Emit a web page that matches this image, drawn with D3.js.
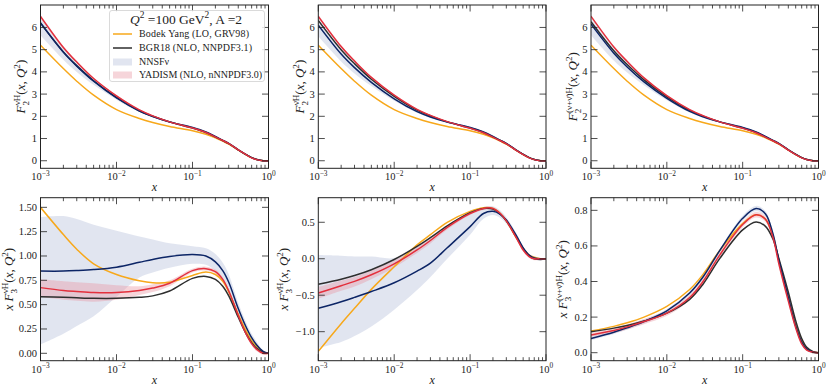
<!DOCTYPE html>
<html><head><meta charset="utf-8">
<script src="https://cdn.jsdelivr.net/npm/d3@7"></script>
<style>body{margin:0;background:#fff}svg{display:block}</style>
</head><body><svg id="c" width="831" height="391"></svg>
<script>
// ---------- DATA ----------
const X = [0.001,0.002,0.003,0.005,0.01,0.02,0.03,0.05,0.1,0.15,0.2,0.25,0.3,0.4,0.5,0.6,0.7,0.85,1.0];

// F2 neutrino
const f2nu_by   = [5.2,4.15,3.58,2.95,2.3,1.9,1.72,1.54,1.35,1.19,1.03,0.88,0.75,0.48,0.28,0.14,0.06,0.005,0];
const f2nu_bgr  = [6.2,4.9,4.28,3.6,2.85,2.25,2.0,1.74,1.47,1.27,1.07,0.91,0.77,0.49,0.29,0.14,0.06,0.005,0];
const f2nu_nnsf = [6.2,4.88,4.26,3.58,2.83,2.24,1.99,1.75,1.5,1.3,1.09,0.92,0.78,0.49,0.29,0.14,0.06,0.005,0];
const f2nu_nnsf_lo = [5.65,4.55,4.0,3.42,2.75,2.19,1.96,1.72,1.46,1.26,1.05,0.89,0.75,0.47,0.27,0.13,0.05,0.0,-0.01];
const f2nu_nnsf_hi = [6.42,5.05,4.4,3.67,2.88,2.28,2.02,1.78,1.54,1.34,1.13,0.95,0.81,0.51,0.31,0.15,0.07,0.01,0.01];
const f2nu_yad  = [6.5,5.1,4.44,3.7,2.92,2.29,2.02,1.75,1.47,1.27,1.07,0.91,0.77,0.49,0.29,0.13,0.05,0.0,0];
const f2nu_yad_lo = [6.43,5.04,4.39,3.66,2.88,2.26,1.99,1.73,1.45,1.25,1.05,0.89,0.75,0.47,0.27,0.12,0.04,-0.01,-0.01];
const f2nu_yad_hi = [6.57,5.16,4.49,3.74,2.96,2.32,2.05,1.77,1.49,1.29,1.09,0.93,0.79,0.51,0.31,0.14,0.06,0.01,0.01];

// F2 antineutrino
const f2nb_by   = [5.2,4.15,3.58,2.95,2.3,1.9,1.72,1.54,1.35,1.19,1.03,0.88,0.75,0.48,0.28,0.14,0.06,0.005,0];
const f2nb_bgr  = [6.32,5.0,4.37,3.67,2.9,2.28,2.02,1.75,1.47,1.27,1.07,0.91,0.77,0.49,0.29,0.14,0.06,0.005,0];
const f2nb_nnsf = [6.1,4.8,4.19,3.53,2.79,2.21,1.97,1.74,1.5,1.3,1.09,0.92,0.78,0.49,0.29,0.14,0.06,0.005,0];
const f2nb_nnsf_lo = [5.6,4.47,3.93,3.36,2.7,2.16,1.93,1.71,1.46,1.26,1.05,0.89,0.75,0.47,0.27,0.13,0.05,0.0,-0.01];
const f2nb_nnsf_hi = [6.35,5.0,4.36,3.65,2.87,2.27,2.02,1.78,1.54,1.34,1.13,0.95,0.81,0.51,0.31,0.15,0.07,0.01,0.01];
const f2nb_yad  = [6.5,5.14,4.49,3.75,2.95,2.31,2.04,1.76,1.46,1.26,1.06,0.9,0.76,0.48,0.28,0.13,0.05,0.0,0];
const f2nb_yad_lo = [6.43,5.08,4.44,3.71,2.91,2.28,2.01,1.74,1.44,1.24,1.04,0.88,0.74,0.46,0.26,0.12,0.04,-0.01,-0.01];
const f2nb_yad_hi = [6.57,5.2,4.54,3.79,2.99,2.34,2.07,1.78,1.48,1.28,1.08,0.92,0.78,0.5,0.3,0.14,0.06,0.01,0.01];

// F2 average
const f2av_by   = [5.2,4.15,3.58,2.95,2.3,1.9,1.72,1.54,1.35,1.19,1.03,0.88,0.75,0.48,0.28,0.14,0.06,0.005,0];
const f2av_bgr  = [6.26,4.95,4.33,3.64,2.88,2.27,2.01,1.75,1.47,1.27,1.07,0.91,0.77,0.49,0.29,0.14,0.06,0.005,0];
const f2av_nnsf = [6.15,4.84,4.22,3.55,2.81,2.22,1.98,1.75,1.5,1.3,1.09,0.92,0.78,0.49,0.29,0.14,0.06,0.005,0];
const f2av_nnsf_lo = [5.65,4.51,3.97,3.4,2.72,2.17,1.94,1.72,1.46,1.26,1.05,0.89,0.75,0.47,0.27,0.13,0.05,0.0,-0.01];
const f2av_nnsf_hi = [6.4,5.03,4.38,3.66,2.88,2.28,2.02,1.78,1.54,1.34,1.13,0.95,0.81,0.51,0.31,0.15,0.07,0.01,0.01];
const f2av_yad  = [6.5,5.12,4.47,3.73,2.93,2.3,2.03,1.75,1.46,1.26,1.06,0.9,0.76,0.48,0.28,0.13,0.05,0.0,0];
const f2av_yad_lo = [6.43,5.06,4.42,3.69,2.89,2.27,2.0,1.73,1.44,1.24,1.04,0.88,0.74,0.46,0.26,0.12,0.04,-0.01,-0.01];
const f2av_yad_hi = [6.57,5.18,4.52,3.77,2.97,2.33,2.06,1.77,1.48,1.28,1.08,0.92,0.78,0.5,0.3,0.14,0.06,0.01,0.01];

// xF3 neutrino
const f3nu_by   = [1.5,1.22,1.07,0.92,0.81,0.745,0.725,0.73,0.8,0.835,0.81,0.74,0.63,0.4,0.24,0.13,0.07,0.015,0];
const f3nu_bgr  = [0.58,0.575,0.57,0.565,0.565,0.575,0.59,0.64,0.77,0.79,0.76,0.69,0.59,0.37,0.21,0.11,0.05,0.01,0];
const f3nu_nnsf = [0.845,0.845,0.85,0.86,0.885,0.935,0.965,0.995,1.015,1.0,0.94,0.85,0.73,0.46,0.28,0.16,0.085,0.02,0];
const f3nu_nnsf_lo = [0.09,0.2,0.28,0.38,0.58,0.78,0.83,0.88,0.92,0.91,0.85,0.76,0.64,0.39,0.22,0.11,0.05,0.005,-0.01];
const f3nu_nnsf_hi = [1.4,1.41,1.38,1.32,1.26,1.2,1.17,1.13,1.1,1.08,1.02,0.93,0.81,0.52,0.33,0.2,0.12,0.03,0.01];
const f3nu_yad  = [0.675,0.645,0.635,0.625,0.625,0.645,0.67,0.72,0.85,0.87,0.84,0.76,0.64,0.39,0.21,0.1,0.04,0.0,0];
const f3nu_yad_lo = [0.58,0.55,0.54,0.53,0.55,0.6,0.63,0.69,0.83,0.85,0.82,0.74,0.62,0.37,0.19,0.08,0.02,-0.015,-0.01];
const f3nu_yad_hi = [0.76,0.74,0.73,0.72,0.7,0.69,0.71,0.75,0.87,0.89,0.86,0.78,0.66,0.41,0.23,0.12,0.06,0.015,0.01];

// xF3 antineutrino
const f3nb_by   = [-1.27,-0.89,-0.68,-0.42,-0.11,0.19,0.33,0.5,0.65,0.7,0.69,0.62,0.52,0.3,0.14,0.05,0.02,0.0,0];
const f3nb_bgr  = [-0.35,-0.28,-0.23,-0.15,-0.01,0.17,0.29,0.45,0.63,0.69,0.68,0.61,0.52,0.31,0.14,0.04,0.0,-0.01,0];
const f3nb_nnsf = [-0.68,-0.59,-0.53,-0.45,-0.33,-0.17,-0.06,0.15,0.44,0.62,0.65,0.61,0.53,0.33,0.15,0.05,0.01,0.0,0];
const f3nb_nnsf_lo = [-1.22,-1.14,-1.06,-0.93,-0.7,-0.43,-0.25,0.0,0.33,0.55,0.6,0.56,0.48,0.29,0.12,0.03,-0.01,-0.02,-0.01];
const f3nb_nnsf_hi = [0.05,0.04,0.03,0.03,0.01,0.16,0.27,0.45,0.63,0.71,0.72,0.66,0.57,0.36,0.17,0.07,0.03,0.01,0.01];
const f3nb_yad  = [-0.47,-0.37,-0.31,-0.22,-0.07,0.12,0.25,0.43,0.62,0.69,0.69,0.62,0.52,0.3,0.12,0.03,0.0,0.0,0];
const f3nb_yad_lo = [-0.55,-0.44,-0.38,-0.28,-0.12,0.08,0.21,0.4,0.6,0.67,0.67,0.6,0.5,0.28,0.1,0.01,-0.02,-0.01,-0.01];
const f3nb_yad_hi = [-0.39,-0.3,-0.25,-0.16,-0.02,0.16,0.28,0.46,0.64,0.71,0.71,0.64,0.54,0.32,0.14,0.05,0.02,0.01,0.01];

// xF3 average
const f3av_by   = [0.122,0.148,0.168,0.2,0.26,0.355,0.44,0.575,0.725,0.775,0.75,0.66,0.52,0.31,0.16,0.07,0.025,0.004,0];
const f3av_bgr  = [0.118,0.138,0.153,0.178,0.222,0.3,0.385,0.53,0.69,0.735,0.71,0.64,0.53,0.34,0.18,0.08,0.03,0.006,0];
const f3av_nnsf = [0.08,0.115,0.14,0.175,0.235,0.335,0.425,0.575,0.755,0.81,0.78,0.67,0.52,0.31,0.15,0.06,0.02,0.002,0];
const f3av_nnsf_lo = [0.07,0.105,0.13,0.165,0.225,0.325,0.415,0.565,0.74,0.795,0.765,0.655,0.51,0.3,0.14,0.055,0.015,0.0,-0.002];
const f3av_nnsf_hi = [0.095,0.125,0.15,0.185,0.245,0.345,0.435,0.585,0.77,0.825,0.795,0.685,0.53,0.32,0.16,0.065,0.025,0.004,0.002];
const f3av_yad  = [0.1,0.125,0.145,0.175,0.222,0.31,0.4,0.55,0.72,0.775,0.75,0.65,0.5,0.29,0.14,0.05,0.015,0.002,0];
const f3av_yad_lo = [0.09,0.11,0.13,0.16,0.207,0.295,0.385,0.535,0.705,0.76,0.735,0.635,0.485,0.28,0.13,0.045,0.01,0.0,-0.002];
const f3av_yad_hi = [0.11,0.14,0.16,0.19,0.237,0.325,0.415,0.565,0.735,0.79,0.765,0.665,0.515,0.3,0.15,0.055,0.02,0.004,0.002];

const xTickExps = [-3,-2,-1,0];
const yTicksF2 = [0,1,2,3,4,5,6];
const yTicksF3nu = [0,0.25,0.5,0.75,1.0,1.25,1.5];
const yTicksF3nb = [-1.0,-0.5,0.0,0.5];
const yTicksF3av = [0,0.2,0.4,0.6,0.8];

const legendNames = ["Bodek Yang (LO, GRV98)","BGR18 (NLO, NNPDF3.1)","NNSFν","YADISM (NLO, nNNPDF3.0)"];

// ---------- STYLE ----------
const C = {by:"#f7a81b", bgr:"#2e2e2e", nnsf:"#0c2566", yad:"#e3303d",
           nnsfBand:"#c3cbe1", yadBand:"#e896a2"};
const FONT = "'Liberation Serif','DejaVu Serif',serif";
const svg = d3.select("#c");

function rich(t, parts, size){
  let off = 0;
  parts.forEach(p=>{
    const target = p.s==='sup' ? -0.42*size : (p.s==='sub' ? 0.28*size : 0);
    const ts = t.append("tspan").text(p.t).attr("dy", target-off);
    off = target;
    if(p.dx) ts.attr("dx", p.dx);
    if(p.s) ts.attr("font-size", size*0.7);
    if(p.i) ts.attr("font-style","italic");
  });
}

const nub = "ν\u0304";
const tail = [{t:"("},{t:"x",i:1},{t:", "},{t:"Q",i:1},{t:"2",s:"sup"},{t:")"}];
const panels = [
 {x0:40.5,x1:268.5,y0:5,y1:168.3,dom:[-0.34,7.01],ticks:yTicksF2,fmt:d=>d3.format("d")(d),lx:25,
  d:{by:f2nu_by,bgr:f2nu_bgr,nnsf:f2nu_nnsf,nlo:f2nu_nnsf_lo,nhi:f2nu_nnsf_hi,yad:f2nu_yad,ylo:f2nu_yad_lo,yhi:f2nu_yad_hi},
  lab:[{t:"F",i:1},{t:"2",s:"sub"},{t:"νH",s:"sup",dx:-4.3}].concat(tail), legend:true},
 {x0:318.3,x1:546,y0:5,y1:168.3,dom:[-0.34,7.01],ticks:yTicksF2,fmt:d=>d3.format("d")(d),lx:304,
  d:{by:f2nb_by,bgr:f2nb_bgr,nnsf:f2nb_nnsf,nlo:f2nb_nnsf_lo,nhi:f2nb_nnsf_hi,yad:f2nb_yad,ylo:f2nb_yad_lo,yhi:f2nb_yad_hi},
  lab:[{t:"F",i:1},{t:"2",s:"sub"},{t:nub+"H",s:"sup",dx:-4.3}].concat(tail)},
 {x0:591,x1:818.5,y0:5,y1:168.3,dom:[-0.34,7.01],ticks:yTicksF2,fmt:d=>d3.format("d")(d),lx:577,
  d:{by:f2av_by,bgr:f2av_bgr,nnsf:f2av_nnsf,nlo:f2av_nnsf_lo,nhi:f2av_nnsf_hi,yad:f2av_yad,ylo:f2av_yad_lo,yhi:f2av_yad_hi},
  lab:[{t:"F",i:1},{t:"2",s:"sub"},{t:"(ν+"+nub+")H",s:"sup",dx:-4.3}].concat(tail)},
 {x0:40.5,x1:268.5,y0:197.7,y1:360.7,dom:[-0.076,1.599],ticks:yTicksF3nu,fmt:d=>d3.format(".2f")(d),lx:13,
  d:{by:f3nu_by,bgr:f3nu_bgr,nnsf:f3nu_nnsf,nlo:f3nu_nnsf_lo,nhi:f3nu_nnsf_hi,yad:f3nu_yad,ylo:f3nu_yad_lo,yhi:f3nu_yad_hi},
  lab:[{t:"x ",i:1},{t:"F",i:1},{t:"3",s:"sub"},{t:"νH",s:"sup",dx:-4.3}].concat(tail)},
 {x0:318.3,x1:546,y0:197.7,y1:360.7,dom:[-1.398,0.837],ticks:yTicksF3nb,fmt:d=>d3.format(".1f")(d).replace("-","−"),lx:288,
  d:{by:f3nb_by,bgr:f3nb_bgr,nnsf:f3nb_nnsf,nlo:f3nb_nnsf_lo,nhi:f3nb_nnsf_hi,yad:f3nb_yad,ylo:f3nb_yad_lo,yhi:f3nb_yad_hi},
  lab:[{t:"x ",i:1},{t:"F",i:1},{t:"3",s:"sub"},{t:nub+"H",s:"sup",dx:-4.3}].concat(tail)},
 {x0:591,x1:818.5,y0:197.7,y1:360.7,dom:[-0.045,0.871],ticks:yTicksF3av,fmt:d=>d3.format(".1f")(d),lx:567,
  d:{by:f3av_by,bgr:f3av_bgr,nnsf:f3av_nnsf,nlo:f3av_nnsf_lo,nhi:f3av_nnsf_hi,yad:f3av_yad,ylo:f3av_yad_lo,yhi:f3av_yad_hi},
  lab:[{t:"x ",i:1},{t:"F",i:1},{t:"3",s:"sub"},{t:"(ν+"+nub+")H",s:"sup",dx:-4.3}].concat(tail)},
];

const curve = d3.curveCatmullRom.alpha(0.5);

panels.forEach((P,pi)=>{
  const x = d3.scaleLog().domain([1e-3,1]).range([P.x0,P.x1]);
  const y = d3.scaleLinear().domain(P.dom).range([P.y1,P.y0]);
  const g = svg.append("g");
  const clipId = "clip"+pi;
  g.append("clipPath").attr("id",clipId).append("rect")
    .attr("x",P.x0).attr("y",P.y0).attr("width",P.x1-P.x0).attr("height",P.y1-P.y0);
  const plot = g.append("g").attr("clip-path",`url(#${clipId})`);
  const area = (lo,hi)=>d3.area().x((d,i)=>x(X[i])).y0((d,i)=>y(lo[i])).y1((d,i)=>y(hi[i])).curve(curve)(X);
  const line = arr=>d3.line().x((d,i)=>x(X[i])).y((d,i)=>y(arr[i])).curve(curve)(X);
  plot.append("path").attr("d",area(P.d.nlo,P.d.nhi)).attr("fill",C.nnsfBand).attr("fill-opacity",0.5);
  plot.append("path").attr("d",area(P.d.ylo,P.d.yhi)).attr("fill",C.yadBand).attr("fill-opacity",0.4);
  [["by",C.by],["bgr",C.bgr],["nnsf",C.nnsf],["yad",C.yad]].forEach(([k,c])=>{
    plot.append("path").attr("d",line(P.d[k])).attr("fill","none").attr("stroke",c).attr("stroke-width",1.5);
  });
  g.append("rect").attr("x",P.x0).attr("y",P.y0).attr("width",P.x1-P.x0).attr("height",P.y1-P.y0)
    .attr("fill","none").attr("stroke","#222").attr("stroke-width",1);
  const minor = [];
  xTickExps.slice(0,3).forEach(e=>{ for(let m=2;m<=9;m++) minor.push(m*Math.pow(10,e)); });
  const tk = g.append("g").attr("stroke","#222").attr("stroke-width",0.8);
  xTickExps.forEach(e=>{
    const xv = x(Math.pow(10,e));
    tk.append("line").attr("x1",xv).attr("x2",xv).attr("y1",P.y1).attr("y2",P.y1-6.5);
    tk.append("line").attr("x1",xv).attr("x2",xv).attr("y1",P.y0).attr("y2",P.y0+6.5);
    const t = g.append("text").attr("x",xv).attr("y",P.y1+12).attr("text-anchor","middle")
      .attr("font-family",FONT).attr("font-size",10.5).attr("fill","#222");
    rich(t,[{t:"10"},{t:(e<0?"−":"")+Math.abs(e),s:"sup"}],10.5);
  });
  minor.forEach(v=>{
    const xv = x(v);
    tk.append("line").attr("x1",xv).attr("x2",xv).attr("y1",P.y1).attr("y2",P.y1-3.5);
    tk.append("line").attr("x1",xv).attr("x2",xv).attr("y1",P.y0).attr("y2",P.y0+3.5);
  });
  P.ticks.forEach(v=>{
    const yv = y(v);
    tk.append("line").attr("x1",P.x0).attr("x2",P.x0+6.5).attr("y1",yv).attr("y2",yv);
    tk.append("line").attr("x1",P.x1).attr("x2",P.x1-6.5).attr("y1",yv).attr("y2",yv);
    g.append("text").attr("x",P.x0-3.5).attr("y",yv).attr("dy","0.33em").attr("text-anchor","end")
      .attr("font-family",FONT).attr("font-size",10.5).attr("fill","#222").text(P.fmt(v));
  });
  g.append("text").attr("x",(P.x0+P.x1)/2).attr("y",P.y1+23).attr("text-anchor","middle")
    .attr("font-family",FONT).attr("font-size",12).attr("font-style","italic").attr("fill","#222").text("x");
  const yl = g.append("text").attr("transform",`translate(${P.lx},${(P.y0+P.y1)/2}) rotate(-90)`)
    .attr("text-anchor","middle").attr("font-family",FONT).attr("font-size",13).attr("fill","#222");
  rich(yl,P.lab,13);

  if(P.legend){
    const L = g.append("g");
    L.append("rect").attr("x",109.5).attr("y",10.5).attr("width",155).attr("height",71).attr("rx",2.5)
      .attr("fill","#fff").attr("fill-opacity",0.85).attr("stroke","#d0d0d0").attr("stroke-width",0.8);
    const tt = L.append("text").attr("x",186).attr("y",24).attr("text-anchor","middle")
      .attr("font-family",FONT).attr("font-size",13.5).attr("fill","#222");
    rich(tt,[{t:"Q",i:1},{t:"2",s:"sup"},{t:" =100 GeV"},{t:"2",s:"sup"},{t:",  A =2"}],13.5);
    const ys = [34,48,62,75];
    const widths = [110,113,null,123];
    legendNames.forEach((n,i)=>{
      const yy = ys[i];
      if(i<2){
        L.append("line").attr("x1",113).attr("x2",132).attr("y1",yy).attr("y2",yy)
          .attr("stroke",i===0?C.by:C.bgr).attr("stroke-width",1.5);
      } else {
        L.append("rect").attr("x",113).attr("y",yy-3.5).attr("width",19).attr("height",7)
          .attr("fill",i===2?C.nnsfBand:C.yadBand).attr("fill-opacity",i===2?0.5:0.4);
      }
      const t = L.append("text").attr("x",139).attr("y",yy).attr("dy","0.33em")
        .attr("font-family",FONT).attr("font-size",10).attr("fill","#222").text(n);
      if(widths[i]) t.attr("textLength",widths[i]).attr("lengthAdjust","spacing");
    });
  }
});
</script></body></html>
